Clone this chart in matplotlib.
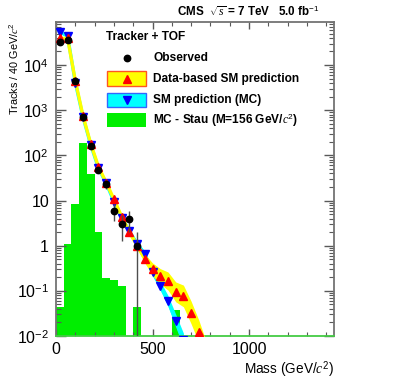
import numpy as np
import matplotlib
matplotlib.use('Agg')
import matplotlib.pyplot as plt
from matplotlib.patches import Rectangle
from matplotlib.ticker import FixedLocator, MultipleLocator, LogLocator, NullFormatter

plt.rcParams['font.family'] = ['Liberation Sans', 'DejaVu Sans']
plt.rcParams['mathtext.fontset'] = 'custom'
plt.rcParams['mathtext.rm'] = 'Liberation Sans'
plt.rcParams['mathtext.it'] = 'Liberation Serif:italic'
plt.rcParams['mathtext.bf'] = 'Liberation Sans:bold'

# 관측 데이터 (40 GeV 간격 bin 중심)
obs_mass = [20, 60, 100, 140, 180, 220, 260, 300, 340, 380, 420]
obs = [3.2e4, 3.6e4, 4.4e3, 700, 165, 48, 23, 6, 3, 4, 1]
obs_err = [179, 190, 66, 26, 12.8, 6.9, 4.8, 2.45, 1.73, 2.0, 1.0]

# 데이터 기반 SM 예측
pred_mass = [20, 60, 100, 140, 180, 220, 260, 300, 340, 380, 420, 460, 500, 540, 580,
             620, 660, 700, 740, 780]
pred = [3.9e4, 3.9e4, 4.5e3, 740, 180, 56, 25, 10.7, 4.4, 2.0, 1.0, 0.52, 0.30, 0.21,
        0.165, 0.095, 0.077, 0.033, 0.0125, 0.004]
pred_band = [0.03, 0.03, 0.03, 0.03, 0.03, 0.03, 0.03, 0.04, 0.05, 0.06, 0.07, 0.10,
             0.14, 0.17, 0.20, 0.22, 0.24, 0.25, 0.25, 0.25]

# MC SM 예측
mc_mass = [20, 60, 100, 140, 180, 220, 260, 300, 340, 380, 420, 460, 500, 540, 580, 620, 660]
mc = [5.4e4, 4.4e4, 4.1e3, 700, 170, 52, 24, 9.5, 4.2, 2.1, 1.1, 0.65, 0.26, 0.13, 0.06,
      0.022, 0.008]
mc_band = [0.03, 0.03, 0.03, 0.03, 0.03, 0.03, 0.03, 0.03, 0.03, 0.04, 0.05, 0.06, 0.08,
           0.10, 0.12, 0.14, 0.16]

# MC stau 히스토그램
stau_edges = np.arange(0, 680, 40)
stau = [0.045, 1.1, 8.5, 185, 39, 2.0, 0.19, 0.17, 0.127, 0, 0.045, 0, 0, 0, 0, 0.037]

fig = plt.figure(figsize=(3.99, 3.83), dpi=100)
ax = fig.add_axes([0.1404, 0.1227, 0.6967, 0.8199])
ax.set_yscale('log')

ax.stairs(stau, stau_edges, fill=True, baseline=1e-4, color='#00ee00', zorder=1)

mc_a = np.array(mc)
mb = 10 ** np.array(mc_band)
ax.fill_between(mc_mass, mc_a / mb, mc_a * mb, color='#00ffff', lw=0, zorder=2)
ax.plot(mc_mass, mc, color='#00ffff', lw=2.4, zorder=2)

pr_a = np.array(pred)
pb = 10 ** np.array(pred_band)
ax.fill_between(pred_mass, pr_a / pb, pr_a * pb, color='#ffff00', lw=0, zorder=3)
ax.plot(pred_mass, pred, color='#ffff00', lw=2.4, zorder=3)

ax.plot(mc_mass, mc, 'v', color='#0000ff', ms=6, zorder=4)
ax.plot(pred_mass, pred, '^', color='#ff0000', ms=6, zorder=5)
ax.errorbar(obs_mass, obs, yerr=obs_err, fmt='o', color='black', ecolor='0.3',
            elinewidth=1, capsize=0, ms=4.6, zorder=6)

ax.set_xlim(0, 1440)
ax.set_ylim(0.01, 9e4)

ax.xaxis.set_major_locator(FixedLocator([0, 500, 1000]))
ax.xaxis.set_minor_locator(MultipleLocator(100))
ax.set_xticklabels(['0', '500', '1000'])
ax.yaxis.set_major_locator(FixedLocator([1e-2, 1e-1, 1, 10, 1e2, 1e3, 1e4]))
ax.yaxis.set_minor_locator(LogLocator(base=10, subs=np.arange(2, 10)))
ax.yaxis.set_minor_formatter(NullFormatter())
ax.set_yticklabels(['$10^{-2}$', '$10^{-1}$', '1', '10', '$10^{2}$', '$10^{3}$', '$10^{4}$'])

ax.tick_params(which='both', direction='in', top=True, right=True, colors='0.35',
               labelcolor='black', labelsize=11.5)
ax.tick_params(axis='y', which='major', length=7, width=1, pad=5)
ax.tick_params(axis='y', which='minor', length=3.5, width=0.8)
ax.tick_params(axis='x', which='major', length=4.8, width=1, pad=4)
ax.tick_params(axis='x', which='minor', length=2.8, width=0.8)
for s in ['left', 'right', 'top']:
    ax.spines[s].set_color('0.45')
    ax.spines[s].set_linewidth(1.3)
ax.spines['bottom'].set_color('#44cc44')
ax.spines['bottom'].set_linewidth(1.3)

ax.set_xlabel('Mass (GeV/$c^{2}$)', fontsize=9.8, loc='right')
ax.xaxis.set_label_coords(1.0, -0.075)
ax.set_ylabel('Tracks / 40 GeV/$c^{2}$', fontsize=7.8, loc='top')
ax.yaxis.set_label_coords(-0.125, 1.0)

# 범례 (수동)
tf = ax.transAxes
ax.text(0.18, 0.952, 'Tracker + TOF', transform=tf, fontsize=8.6, fontweight='bold',
        va='center', ha='left')
ax.plot([0.255], [0.885], 'o', color='black', ms=4.6, transform=tf, clip_on=False)
ax.text(0.349, 0.885, 'Observed', transform=tf, fontsize=8.6, fontweight='bold', va='center')
ax.add_patch(Rectangle((0.183, 0.796), 0.141, 0.048, transform=tf, facecolor='#ffff00',
                       edgecolor='#ff5522', lw=1, zorder=7))
ax.plot([0.255], [0.82], '^', color='#ff0000', ms=6, transform=tf, zorder=8)
ax.text(0.349, 0.82, 'Data-based SM prediction', transform=tf, fontsize=8.6,
        fontweight='bold', va='center')
ax.add_patch(Rectangle((0.183, 0.729), 0.141, 0.045, transform=tf, facecolor='#00ffff',
                       edgecolor='#3366ff', lw=1, zorder=7))
ax.plot([0.255], [0.752], 'v', color='#0000ff', ms=6, transform=tf, zorder=8)
ax.text(0.349, 0.752, 'SM prediction (MC)', transform=tf, fontsize=8.6,
        fontweight='bold', va='center')
ax.add_patch(Rectangle((0.183, 0.666), 0.141, 0.044, transform=tf, facecolor='#00ee00',
                       edgecolor='none', zorder=7))
ax.text(0.349, 0.688, 'MC - Stau (M=156 GeV/$c^{2}$)', transform=tf, fontsize=8.6,
        fontweight='bold', va='center')

fig.text(0.80, 0.969, r'CMS  $\sqrt{s}$ = 7 TeV   5.0 fb$^{-1}$', fontsize=8.4,
         fontweight='bold', ha='right', va='center')

fig.savefig('out.png', dpi=100)
